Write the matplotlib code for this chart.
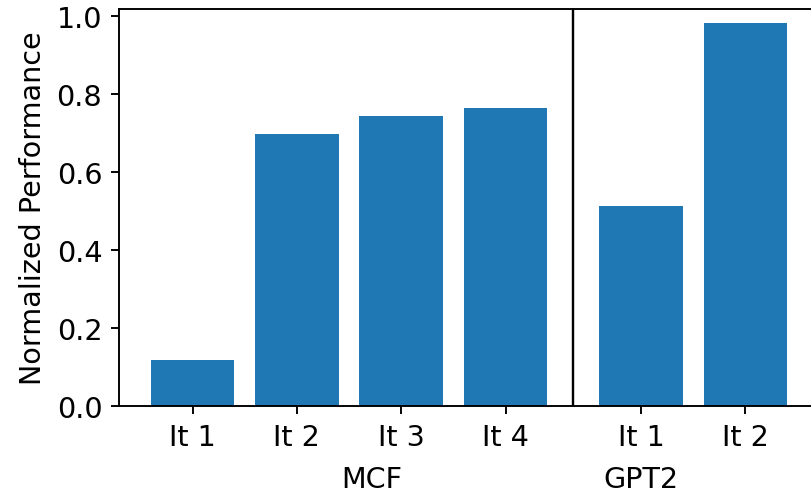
import matplotlib
import matplotlib.pyplot as plt
import matplotlib.transforms as mtransforms

matplotlib.use("Agg")
plt.rcParams["font.size"] = 12

# Normalized performance per iteration, grouped by workload
mcf_labels = ["It 1", "It 2", "It 3", "It 4"]
mcf_values = [0.119, 0.698, 0.744, 0.765]
gpt2_labels = ["It 1", "It 2"]
gpt2_values = [0.514, 0.983]
group_names = ["MCF", "GPT2"]

group_gap = 1.3
DPI = 172

mcf_x = list(range(len(mcf_values)))
gpt2_x = [mcf_x[-1] + group_gap + i for i in range(len(gpt2_values))]

fig = plt.figure(figsize=(811 / DPI, 496 / DPI), dpi=DPI)
ax = fig.add_axes([0.1467, 0.1788, 0.8632, 0.801])

ax.bar(mcf_x + gpt2_x, mcf_values + gpt2_values, width=0.8, color="#1f77b4")

# separator between the two workloads
sep = (mcf_x[-1] + gpt2_x[0]) / 2
ax.axvline(sep, color="black", linewidth=1.0)

ax.set_xticks(mcf_x + gpt2_x)
ax.set_xticklabels(mcf_labels + gpt2_labels)
ax.set_ylim(0, 1.019)
ax.set_ylabel("Normalized Performance")

# group names below the tick labels
trans = mtransforms.blended_transform_factory(ax.transData, ax.transAxes)
ax.text(1.716, -0.203, group_names[0], transform=trans, ha="center", va="baseline")
ax.text(gpt2_x[0], -0.203, group_names[1], transform=trans, ha="center", va="baseline")

fig.savefig("out.png", dpi=DPI)
